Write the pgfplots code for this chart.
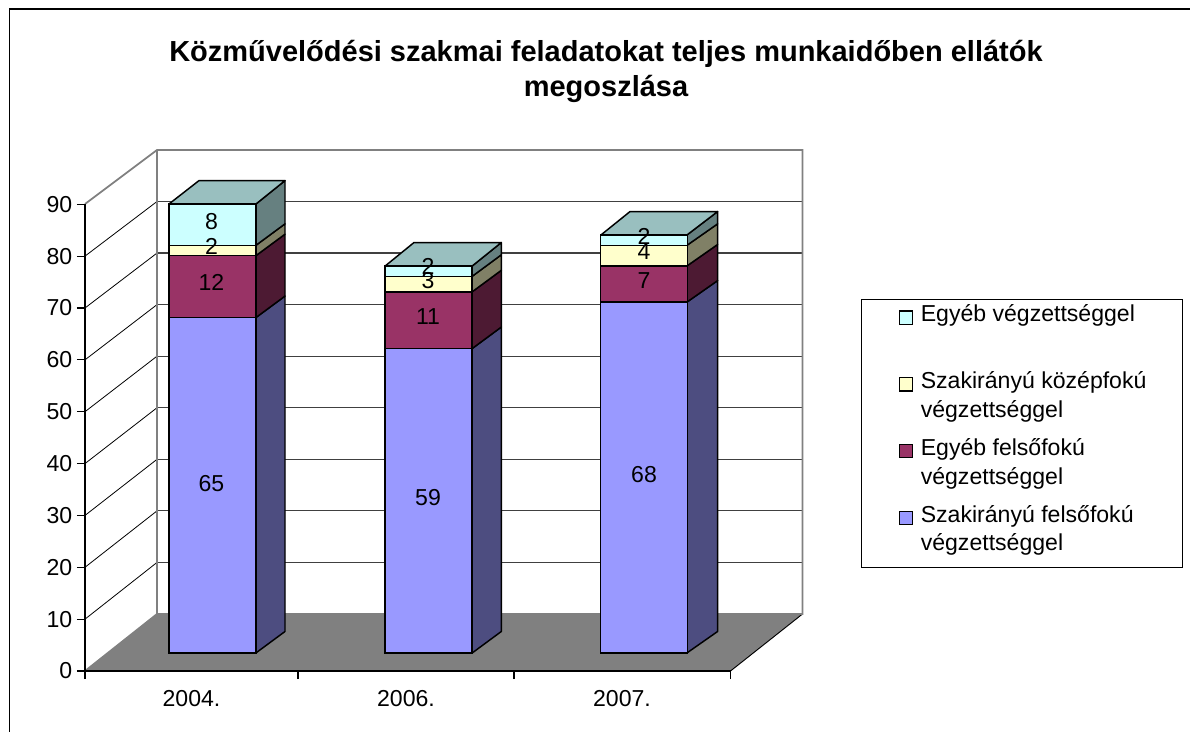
\documentclass[border=0pt]{standalone}
\usepackage{pgfplots}
\usepackage{pgfplotstable}
\usepackage{fontspec}
\setmainfont{Liberation Sans}
\pgfplotsset{compat=1.18}
\definecolor{cBlue}{RGB}{153,153,255}
\definecolor{cBlueS}{RGB}{77,77,128}
\definecolor{cMar}{RGB}{153,51,102}
\definecolor{cMarS}{RGB}{77,26,51}
\definecolor{cYel}{RGB}{255,255,204}
\definecolor{cYelS}{RGB}{128,128,102}
\definecolor{cCya}{RGB}{204,255,255}
\definecolor{cCyaS}{RGB}{102,128,128}
\definecolor{cTop}{RGB}{153,191,191}
\pgfplotstableread{
pos    szf  ef  szk  egy
212.35 65   12  2    8
428.65 59   11  3    2
643.85 68   7   4    2
}\bars
\newcommand{\lblfont}{\fontsize{17.3}{21.4}\selectfont}
\newcommand{\lgd}[2]{\parbox[t]{168.6pt}{\rule{0pt}{12.9pt}\mbox{#1}\\\rule[-8.5pt]{0pt}{8.5pt}\mbox{#2}}}
\begin{document}
\begin{tikzpicture}[x=0.75pt,y=-0.75pt]
\path[use as bounding box,fill=white] (0,0) rectangle (1190,732);
% chart frame
\draw[black,line width=1.2pt] (1190,9) -- (9.5,9) -- (9.5,732);
% title
\node[align=center,font=\fontsize{21.75}{26.3}\selectfont\bfseries] at (606,71.5)
 {Közművelődési szakmai feladatokat teljes munkaidőben ellátók\\megoszlása};
% floor
\fill[black!50] (85,671) -- (157,614) -- (802.5,614) -- (730.5,671) -- cycle;
\draw[black,line width=0.7pt] (730.5,671) -- (802.5,614);
% walls
\foreach \v in {10,20,...,80}{
  \draw[black!75,line width=0.9pt] (157,614-\v*5.156) -- (802.5,614-\v*5.156);
  \draw[black,line width=0.6pt] (85,671-\v*5.186) -- (157,614-\v*5.156);
}
\draw[black!50,line width=1.3pt] (85,204) -- (157,150) -- (802.5,150) -- (802.5,614) -- (157,614) -- (157,150);
\draw[black!50,line width=1.3pt] (85,671) -- (157,614);
% axis with the value scale
\begin{axis}[at={(63.75pt,-503.25pt)},anchor=south west,x=0.75pt,y=3.8895pt,
  xmin=85,xmax=730.5,ymin=0,ymax=90,clip=false,
  axis lines=left,axis line style={-,black,line width=1pt},
  tick style={black,line width=0.8pt},
  tick align=outside,major tick length=6pt,
  ytick={0,10,...,90},
  xtick={85,298,514,730.5},xticklabels={},
  extra x ticks={191.5,406,622},
  extra x tick labels={2004.,2006.,2007.},
  extra x tick style={major tick length=0pt,tick label style={yshift=-11pt}},
  tick label style={font=\lblfont},
  /pgf/number format/assume math mode=true,
]
\addplot[draw=none,forget plot] coordinates {(85,0)(730,0)};
\end{axis}
% side and top faces of the columns
\begin{axis}[at={(63.75pt,-489.75pt)},anchor=south west,x=0.75pt,y=3.87pt,
  xmin=85,xmax=730.5,ymin=0,ymax=90,clip=false,hide axis]
\pgfplotsset{every axis plot/.append style={draw=black,line width=1.1pt,line join=round}}
% 2004
\addplot[fill=cBlueS] coordinates {(255.85,0)(285,4.17)(285,69.17)(255.85,65)} --cycle;
\addplot[fill=cMarS]  coordinates {(255.85,65)(285,69.17)(285,81.17)(255.85,77)} --cycle;
\addplot[fill=cYelS]  coordinates {(255.85,77)(285,81.17)(285,83.17)(255.85,79)} --cycle;
\addplot[fill=cCyaS]  coordinates {(255.85,79)(285,83.17)(285,91.55)(255.85,87)} --cycle;
\addplot[fill=cTop]   coordinates {(168.85,87)(199,91.55)(285,91.55)(255.85,87)} --cycle;
% 2006
\addplot[fill=cBlueS] coordinates {(472.15,0)(501.3,4.17)(501.3,63.17)(472.15,59)} --cycle;
\addplot[fill=cMarS]  coordinates {(472.15,59)(501.3,63.17)(501.3,74.17)(472.15,70)} --cycle;
\addplot[fill=cYelS]  coordinates {(472.15,70)(501.3,74.17)(501.3,77.17)(472.15,73)} --cycle;
\addplot[fill=cCyaS]  coordinates {(472.15,73)(501.3,77.17)(501.3,79.55)(472.15,75)} --cycle;
\addplot[fill=cTop]   coordinates {(385.15,75)(414,79.55)(501.3,79.55)(472.15,75)} --cycle;
% 2007
\addplot[fill=cBlueS] coordinates {(686.85,0)(717.6,4.17)(717.6,72.17)(686.85,68)} --cycle;
\addplot[fill=cMarS]  coordinates {(686.85,68)(717.6,72.17)(717.6,79.17)(686.85,75)} --cycle;
\addplot[fill=cYelS]  coordinates {(686.85,75)(717.6,79.17)(717.6,83.17)(686.85,79)} --cycle;
\addplot[fill=cCyaS]  coordinates {(686.85,79)(717.6,83.17)(717.6,85.55)(686.85,81)} --cycle;
\addplot[fill=cTop]   coordinates {(600.85,81)(630,85.55)(717.6,85.55)(686.85,81)} --cycle;
\end{axis}
% front faces, stacked, with the legend
\begin{axis}[at={(63.75pt,-489.75pt)},anchor=south west,x=0.75pt,y=3.87pt,
  xmin=85,xmax=730.5,ymin=0,ymax=90,clip=false,hide axis,
  ybar stacked,bar width=65.25pt,
  reverse legend,
  legend cell align=left,
  legend image code/.code={\draw[#1,line width=0.9pt,draw=black] (0pt,6.8pt) rectangle (10pt,16.8pt);},
  legend style={at={(axis cs:861,68.66)},anchor=north west,draw=black,line width=0.7pt,
    font=\lblfont,inner xsep=27.8pt,inner ysep=4.2pt,row sep=7.3pt,
    nodes={inner sep=0pt,outer sep=0pt,text depth=},
    /tikz/every odd column/.append style={column sep=5.8pt},
    /tikz/every even column/.append style={column sep=0pt}},
]
\pgfplotsset{every axis plot/.append style={draw=black,line width=1.1pt}}
\addplot[fill=cBlue] table[x=pos,y=szf] {\bars};
\addplot[fill=cMar]  table[x=pos,y=ef]  {\bars};
\addplot[fill=cYel]  table[x=pos,y=szk] {\bars};
\addplot[fill=cCya]  table[x=pos,y=egy] {\bars};
\legend{\lgd{Szakirányú felsőfokú}{végzettséggel},
        \lgd{Egyéb felsőfokú}{végzettséggel},
        \lgd{Szakirányú középfokú}{végzettséggel},
        \lgd{Egyéb végzettséggel}{}}
\end{axis}
% value labels
\begin{axis}[at={(63.75pt,-489.75pt)},anchor=south west,x=0.75pt,y=3.87pt,
  xmin=85,xmax=730.5,ymin=0,ymax=90,clip=false,hide axis]
\addplot[draw=none,forget plot] coordinates {(212,0)(644,81)};
\tikzset{every node/.append style={yshift=1.2pt}}
\node[font=\lblfont] at (axis cs:211.5,32.5) {65};
\node[font=\lblfont] at (axis cs:211.5,71.5) {12};
\node[font=\lblfont] at (axis cs:211.5,78.4) {2};
\node[font=\lblfont] at (axis cs:211.5,83.4) {8};
\node[font=\lblfont] at (axis cs:428,29.8) {59};
\node[font=\lblfont] at (axis cs:428,64.9) {11};
\node[font=\lblfont] at (axis cs:428,71.8) {3};
\node[font=\lblfont] at (axis cs:428,74.6) {2};
\node[font=\lblfont] at (axis cs:644,34.2) {68};
\node[font=\lblfont] at (axis cs:644,71.9) {7};
\node[font=\lblfont] at (axis cs:644,77.5) {4};
\node[font=\lblfont] at (axis cs:644,80.5) {2};
\end{axis}
\end{tikzpicture}
\end{document}
